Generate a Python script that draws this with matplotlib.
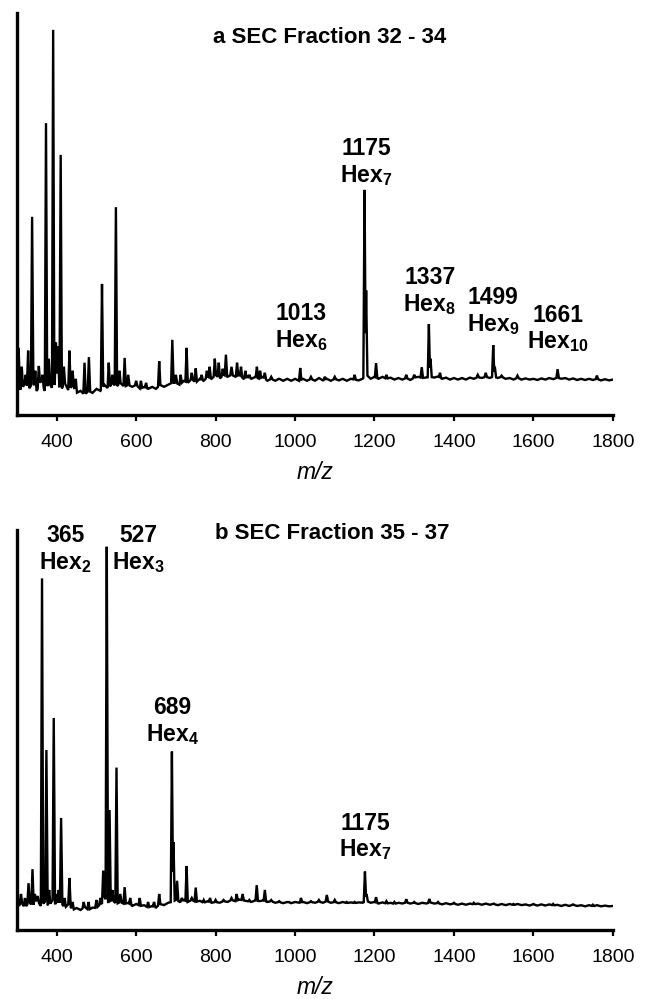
import numpy as np
import matplotlib
matplotlib.use("Agg")
import matplotlib.pyplot as plt

plt.rcParams['font.family'] = ['Liberation Sans', 'DejaVu Sans']
plt.rcParams['mathtext.fontset'] = 'custom'
plt.rcParams['mathtext.rm'] = 'Liberation Sans:bold'
plt.rcParams['mathtext.it'] = 'Liberation Sans:bold'
plt.rcParams['mathtext.bf'] = 'Liberation Sans:bold'

# ---------------- data ----------------
base_start, base_stop, base_step = 300, 1800, 10

top_baseline = [
    9, 6, 8, 6.5, 8, 6, 8.5, 6, 8, 6.5, 9, 6, 8, 6, 7.5, 5.5, 6, 5, 6, 5.5,
    6.5, 6, 7.5, 6.5, 8, 7, 8, 7, 7.5, 7, 7.5, 6.5, 7, 6.5, 7, 6.5, 7.5, 7, 7.5, 8,
    8, 7.5, 8.5, 8, 9, 8, 9, 8.5, 9.5, 9, 10, 9, 10, 9.5, 10, 9.5, 10, 9, 9.5, 9,
    9.5, 9, 9.5, 8.5, 9, 8.5, 9, 8.5, 9, 8.5, 9, 8.5, 9, 8.5, 9, 8.5, 9.2, 8.6, 9, 8.5,
    9, 8.6, 9, 8.5, 9, 8.8, 8.6, 9, 10, 9, 9.5, 9, 9.5, 9, 9.3, 8.8, 9.2, 8.8, 9.2, 8.7,
    9.3, 9.5, 9.2, 9.3, 9.5, 9.3, 9.6, 9, 9.3, 8.8, 9.2, 8.8, 9.2, 8.8, 9.3, 9, 9.4, 9.2, 9.5, 9.2,
    9.6, 9.2, 9.5, 9, 9.2, 8.8, 9.3, 8.8, 9.1, 8.8, 9, 8.7, 9.1, 8.8, 9.2, 8.9, 9.3, 9, 9.2, 8.8,
    9.1, 8.7, 9, 8.7, 9, 8.7, 9, 8.6, 8.9, 8.6, 8.8,
]
top_peak_mz = [
    304, 312, 322, 328, 338, 346, 355, 364, 373, 380, 391, 398, 403, 410, 418,
    432, 440, 448, 470, 481, 514, 531, 540, 549, 558, 571, 580, 600, 612, 625,
    658, 691, 700, 712, 727, 740, 750, 765, 778, 785, 798, 808, 818, 826, 840,
    854, 864, 875, 885, 904, 912, 924, 940, 960, 1013, 1040, 1075, 1100, 1150,
    1175, 1179, 1204, 1230, 1280, 1300, 1319, 1337, 1341, 1365, 1460, 1480,
    1499, 1503, 1520, 1560, 1661, 1760,
]
top_peak_int = [
    16.7, 12, 10, 16, 49.3, 11, 12.2, 10, 72.6, 14, 95.8, 18, 17, 64.7, 12,
    16, 11, 9, 13, 14.4, 32.6, 13, 10, 51.7, 11, 14.2, 10, 8.5, 8.5, 8,
    13.4, 18.7, 10, 10, 16.7, 10.5, 11.6, 10, 11, 12, 14, 13, 11.5, 15, 12,
    13, 12, 11, 10, 12, 11, 10.5, 9.5, 9, 11.7, 9.5, 9.5, 9.5, 10,
    56, 31, 12.9, 10, 10, 10, 11.9, 22.6, 14, 10.5, 10, 10.5,
    17.4, 12, 9.8, 9.8, 11.4, 9.8,
]

bot_baseline = [
    5, 7, 5.5, 7, 6, 7.5, 6, 7, 6, 7.5, 6, 7, 5.5, 6.5, 5, 5.5, 5, 5.8, 5, 5.6,
    5.5, 6.5, 7, 7, 7.5, 6.5, 7, 6.5, 6.8, 6, 6.5, 6, 6.2, 5.6, 6, 5.6, 6.5, 6.2, 6.8, 7,
    7.5, 7, 7.5, 7, 7.5, 7, 7.3, 6.8, 7.2, 6.8, 7, 6.8, 7.2, 7, 7.5, 7.2, 7.6, 7.4, 7.2, 7,
    7.4, 7.2, 7.4, 7, 7.2, 6.8, 7, 6.7, 7, 6.7, 7, 6.8, 7, 6.7, 7, 6.8, 7.1, 6.8, 7.2, 6.8,
    7, 6.7, 7, 6.7, 6.9, 6.7, 6.9, 6.8, 7.3, 6.8, 7, 6.6, 6.9, 6.6, 6.8, 6.5, 6.8, 6.6, 6.9, 6.6,
    6.8, 6.5, 6.8, 6.6, 6.9, 6.6, 6.7, 6.4, 6.7, 6.4, 6.6, 6.3, 6.6, 6.3, 6.6, 6.4, 6.6, 6.3, 6.6, 6.3,
    6.5, 6.2, 6.5, 6.2, 6.5, 6.2, 6.5, 6.2, 6.4, 6.1, 6.4, 6.1, 6.4, 6.1, 6.4, 6.1, 6.3, 6, 6.3, 6,
    6.3, 6, 6.2, 5.9, 6.2, 5.9, 6.2, 5.9, 6.1, 5.9, 6,
]
bot_peak_mz = [
    302, 310, 320, 329, 339, 345, 352, 363, 374, 381, 392.5, 400, 405, 411, 420,
    432, 440, 468, 480, 500, 510, 517, 521, 526, 533, 540, 550.5, 560, 571, 585,
    609, 630, 645, 658, 690, 694, 703, 715, 727, 740, 750, 770, 786, 800, 820,
    840, 853, 868, 885, 903.5, 924, 940, 960, 985, 1015, 1040, 1060, 1080, 1100,
    1130, 1150, 1176, 1180, 1204, 1230, 1250, 1280, 1300, 1338, 1360, 1400,
    1450, 1500, 1550, 1600, 1650, 1700, 1750,
]
bot_peak_int = [
    8, 9, 8, 11.7, 15.2, 9, 8.5, 87.9, 45, 10, 53, 9, 10, 28, 8,
    13, 7, 7, 7, 7.5, 8, 14.8, 9, 95.8, 30, 10, 40.6, 9, 10.7, 8,
    8, 7, 7, 9, 44.6, 22, 12.3, 8, 16, 8, 10.6, 7.5, 8, 7.5, 7.5,
    8, 9, 9, 7.5, 11.2, 10, 7.5, 7.2, 7, 8, 7.2, 7.5, 8.75, 7.5,
    7, 7, 14.6, 9, 8.2, 7.2, 7, 7.7, 7, 7.75, 7, 6.8,
    6.8, 6.6, 6.5, 6.5, 6.5, 6.4, 6.3,
]

top_title = "a SEC Fraction 32 - 34"
bot_title = "b SEC Fraction 35 - 37"
top_labels = [("1013", "6"), ("1175", "7"), ("1337", "8"), ("1499", "9"), ("1661", "10")]
bot_labels = [("365", "2"), ("527", "3"), ("689", "4"), ("1175", "7")]
xticks = [400, 600, 800, 1000, 1200, 1400, 1600, 1800]

# ---------------- layout / style ----------------
top_label_pos = [(1015, 21.8), (1179, 62.8), (1339, 30.8), (1499, 25.7), (1661, 21.4)]
bot_label_pos = [(421, 95.1), (605, 95.1), (691, 52.1), (1176, 23.25)]
HW = 3.0  # half-width of peak profile in m/z


def spectrum(baseline, pmz, pint):
    bx = np.arange(base_start, base_stop + 1, base_step)
    x = np.arange(base_start, base_stop + 0.01, 0.25)
    y = np.interp(x, bx, baseline)
    b = y.copy()
    for m, h in zip(pmz, pint):
        tri = b + (h - b) * np.clip(1 - np.abs(x - m) / HW, 0, None)
        y = np.maximum(y, tri)
    return x, y


fig = plt.figure(figsize=(6.49, 9.99), dpi=100)
ax1 = fig.add_axes([0.0262, 0.5846, 0.918, 0.4024])
ax2 = fig.add_axes([0.0262, 0.0691, 0.918, 0.4004])

panels = [
    (ax1, top_baseline, top_peak_mz, top_peak_int, top_title, (0.525, 0.94), top_labels, top_label_pos),
    (ax2, bot_baseline, bot_peak_mz, bot_peak_int, bot_title, (0.5285, 0.992), bot_labels, bot_label_pos),
]

for ax, base, pmz, pint, title, tpos, labels, lpos in panels:
    x, y = spectrum(base, pmz, pint)
    ax.plot(x, y, color='black', lw=1.7, solid_joinstyle='miter')
    ax.set_xlim(300, 1800)
    ax.set_ylim(0, 100)
    for s in ('top', 'right'):
        ax.spines[s].set_visible(False)
    for s in ('left', 'bottom'):
        ax.spines[s].set_linewidth(2.4)
        ax.spines[s].set_color('black')
    ax.set_yticks([])
    ax.set_xticks(xticks)
    ax.tick_params(axis='x', direction='out', length=4.5, width=1.6, labelsize=14, pad=9.5)
    ax.set_xlabel('m/z', fontsize=16.5, style='italic', labelpad=7)
    ax.text(tpos[0], tpos[1], title, transform=ax.transAxes, ha='center', va='center',
            fontsize=16, fontweight='bold')
    for (num, sub), (lx, ly) in zip(labels, lpos):
        ax.text(lx, ly, num + "\n" + "Hex$_{" + sub + "}$", ha='center', va='center',
                fontsize=16.5, fontweight='bold', linespacing=1.15)

fig.savefig('out.png', dpi=100)
